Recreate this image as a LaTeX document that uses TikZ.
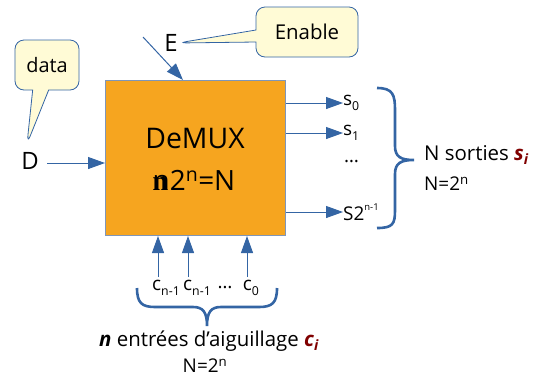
\documentclass[tikz,border=0pt]{standalone}
\usepackage{fontspec}
\setmainfont{Open Sans}
\newfontfamily\serifbold{Liberation Serif}
\usetikzlibrary{arrows.meta,shapes.callouts}
\definecolor{lineblue}{HTML}{3465A4}
\definecolor{boxorange}{HTML}{F6A51F}
\definecolor{boxedge}{HTML}{7F96B8}
\definecolor{calloutfill}{HTML}{FFFBD6}
\definecolor{darkred}{HTML}{800000}
\newcommand\smallsup[1]{\raisebox{0.95ex}{\scalebox{0.5}{#1}}}
\newcommand\lowsub[1]{\raisebox{-0.45ex}{\scalebox{0.65}{#1}}}
\begin{document}
\begin{tikzpicture}[x=1bp,y=-1bp,
  conn/.style={draw=lineblue, line width=1bp, -{Triangle[length=17bp,width=12bp]}},
  big/.style={inner sep=0pt, font=\fontsize{24}{26}\selectfont},
  mid/.style={inner sep=0pt, font=\fontsize{19}{21}\selectfont},
  note/.style={rectangle callout, draw=lineblue, line width=0.8bp, fill=calloutfill,
    rounded corners=9bp, inner sep=0pt},
  bracepath/.style={draw=lineblue, line width=2.6bp}
]
\useasboundingbox (0,0) rectangle (539,381);

% main block
\node[draw=boxedge, line width=1bp, fill=boxorange, minimum width=180bp, minimum height=155bp,
  inner sep=0pt, anchor=north west] (box) at (105,80) {};
\node[inner sep=0pt, font=\fontsize{28.5}{30}\selectfont] (title) at (195,138) {DeMUX};
\node[inner sep=0pt, font=\fontsize{28}{30}\selectfont] (eq) at (194,180)
  {\rlap{\serifbold\bfseries n}n2\textsuperscript{n}=N};

% data input
\node[big] (D) at (30,161) {D};
\coordinate (dstart) at (47,163);
\draw[conn] (dstart) -- (dstart -| box.west);
\coordinate (dtip) at (27,144);
\node[note, minimum width=64bp, minimum height=50bp, callout absolute pointer=(dtip),
  callout pointer width=16bp, font=\fontsize{20}{22}\selectfont] (data) at (47,65) {data};

% enable input
\node[big] (E) at (171,43) {E};
\coordinate (estart) at (143,37);
\coordinate (eend) at (183,80);
\draw[conn] (estart) -- (eend);
\node[note, minimum width=102bp, minimum height=50bp, callout absolute pointer=(E.east),
  callout pointer width=12bp, font=\fontsize{20.5}{22}\selectfont] (enable) at (307,32) {Enable};

% outputs
\node[mid, anchor=west] (s0) at (343,103) {s\lowsub{0}};
\node[mid, anchor=west] (s1) at (343,133) {s\lowsub{1}};
\node[mid, anchor=west] (sdots) at (344,162) {\dots};
\node[mid, anchor=west] (sn) at (343,212) {S2\smallsup{n-1}};
\draw[conn] (box.east |- s0.west) -- (s0.west);
\draw[conn] (box.east |- s1.west) -- (s1.west);
\draw[conn] (box.east |- sn.west) -- (sn.west);

% right brace
\draw[bracepath] (377,88) .. controls (393,88) and (395,95) .. (395,110) -- (395,146)
  .. controls (395,157) and (401,160) .. (414,160)
  .. controls (401,160) and (395,163) .. (395,174) -- (395,210)
  .. controls (395,224) and (393,228) .. (377,228);
\node[inner sep=0pt, anchor=west, font=\fontsize{20.5}{22}\selectfont] (nsort) at (424,155)
  {N sorties \textcolor{darkred}{\bfseries\itshape s\textsubscript{i}}};
\node[inner sep=0pt, anchor=west, font=\fontsize{19}{21}\selectfont] (neq1) at (424,184) {N=2\textsuperscript{n}};

% control inputs
\node[mid] (c1) at (166,288) {c\lowsub{n-1}};
\node[mid] (c2) at (197,288) {c\lowsub{n-1}};
\node[mid] (cdots) at (225,288) {\dots};
\node[mid] (c0) at (251,288) {c\lowsub{0}};
\coordinate (a1) at (158,277);
\coordinate (a2) at (188,277);
\coordinate (a3) at (247,277);
\draw[conn] (a1) -- (a1 |- box.south);
\draw[conn] (a2) -- (a2 |- box.south);
\draw[conn] (a3) -- (a3 |- box.south);

% bottom brace
\draw[bracepath] (137,288) .. controls (137,303) and (142,307) .. (155,307) -- (193,307)
  .. controls (203,307) and (207,312) .. (207,326)
  .. controls (207,312) and (211,307) .. (221,307) -- (259,307)
  .. controls (272,307) and (277,303) .. (277,288);
\node[inner sep=0pt, font=\fontsize{20.5}{22}\selectfont] (nent) at (209,341)
  {\textbf{\textit{n}} entrées d’aiguillage \textcolor{darkred}{\bfseries\itshape c\textsubscript{i}}};
\node[inner sep=0pt, font=\fontsize{19}{21}\selectfont] (neq2) at (205,366) {N=2\textsuperscript{n}};
\end{tikzpicture}
\end{document}
